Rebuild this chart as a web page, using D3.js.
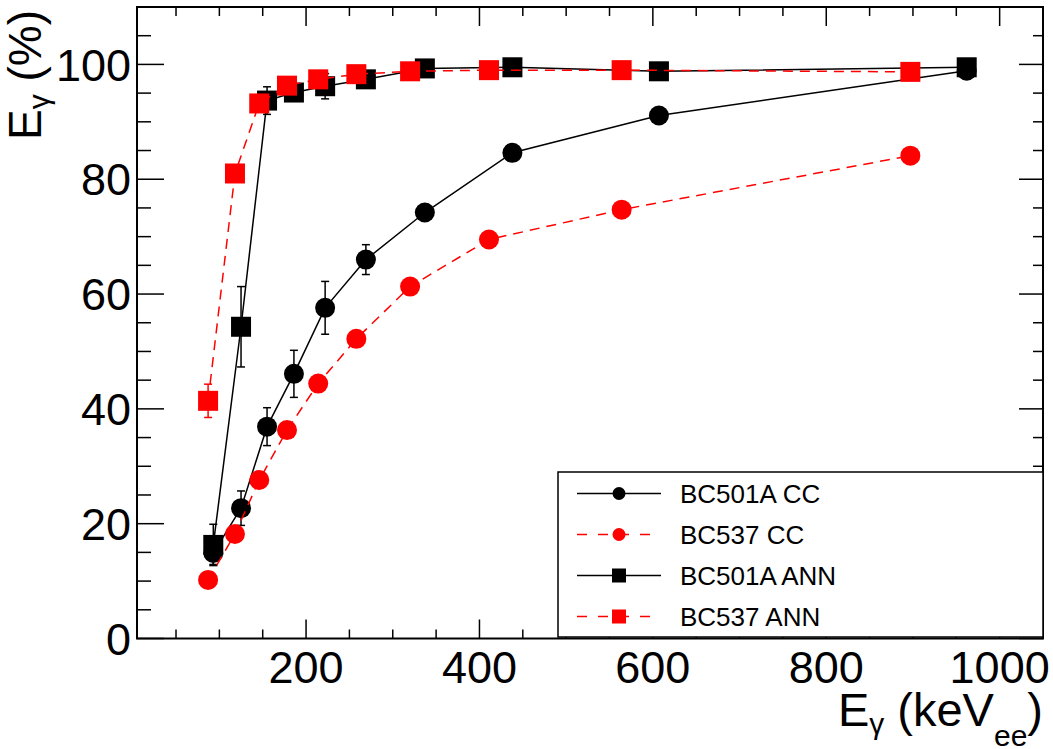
<!DOCTYPE html>
<html>
<head>
<meta charset="utf-8">
<script src="https://cdn.jsdelivr.net/npm/d3@7"></script>
<style>
  body { margin: 0; background: #fff; }
  svg { display: block; font-family: "Liberation Sans", Arial, Helvetica, sans-serif; }
</style>
</head>
<body>
<script>
var w = 1053;
var h = 749;

// Energy bins (keVee) for each scintillator
var energyBC501A = [93, 125, 155, 186, 222, 269, 337, 438, 607, 962];
var energyBC537 = [87, 118, 146, 178, 214, 258, 320, 411, 564, 897];

// Gamma efficiency (%) and errors
var effBC501A_CC = [14.9, 22.7, 36.9, 46.1, 57.6, 66.0, 74.2, 84.6, 91.1, 98.9];
var errBC501A_CC = [2.0, 3.0, 3.3, 4.1, 4.6, 2.6, 1.4, 1.0, 0.8, 0.6];
var effBC537_CC = [10.2, 18.2, 27.6, 36.3, 44.4, 52.2, 61.3, 69.5, 74.7, 84.1];
var errBC537_CC = [0.8, 1.0, 1.0, 1.0, 1.0, 1.0, 0.8, 0.8, 0.8, 0.8];
var effBC501A_ANN = [16.3, 54.3, 93.7, 95.1, 96.2, 97.4, 99.3, 99.5, 98.8, 99.5];
var errBC501A_ANN = [3.6, 7.0, 2.4, 1.5, 2.2, 1.0, 0.8, 0.5, 0.5, 0.5];
var effBC537_ANN = [41.4, 81.0, 93.2, 96.3, 97.4, 98.3, 98.8, 99.0, 99.0, 98.7];
var errBC537_ANN = [2.9, 1.0, 0.8, 0.6, 0.6, 0.5, 0.5, 0.5, 0.5, 0.5];

var seriesNames = ["BC501A CC", "BC537 CC", "BC501A ANN", "BC537 ANN"];
var xTicks = [200, 400, 600, 800, 1000];
var yTicks = [0, 20, 40, 60, 80, 100];

var series = [
    { name: seriesNames[0], x: energyBC501A, y: effBC501A_CC, e: errBC501A_CC, color: "#000", dash: null, shape: "circle" },
    { name: seriesNames[1], x: energyBC537, y: effBC537_CC, e: errBC537_CC, color: "#ff0000", dash: "10,7", shape: "circle" },
    { name: seriesNames[2], x: energyBC501A, y: effBC501A_ANN, e: errBC501A_ANN, color: "#000", dash: null, shape: "square" },
    { name: seriesNames[3], x: energyBC537, y: effBC537_ANN, e: errBC537_ANN, color: "#ff0000", dash: "10,7", shape: "square" }
];

// Frame edges (pixels)
var frameL = 137, frameR = 1043, frameT = 7, frameB = 638.5;

var svg = d3.select("body")
    .append("svg")
    .attr("width", w)
    .attr("height", h);

var x = d3.scaleLinear().domain([5, 1050]).range([frameL, frameR]);
var y = d3.scaleLinear().domain([0, 110]).range([frameB, frameT]);

// Ticks (major + minor) on all four sides
var xMinor = d3.range(50, 1051, 50);
var yMinor = d3.range(0, 111, 5);

var ticks = svg.append("g").attr("stroke", "#000").attr("stroke-width", 1.5);

xMinor.forEach(function(v) {
    var major = v % 200 === 0;
    var len = major ? 19 : 9;
    ticks.append("line").attr("x1", x(v)).attr("x2", x(v))
        .attr("y1", frameB).attr("y2", frameB - len);
    ticks.append("line").attr("x1", x(v)).attr("x2", x(v))
        .attr("y1", frameT).attr("y2", frameT + len);
});

yMinor.forEach(function(v) {
    var major = v % 20 === 0;
    ticks.append("line").attr("y1", y(v)).attr("y2", y(v))
        .attr("x1", frameL).attr("x2", frameL + (major ? 27 : 14));
    ticks.append("line").attr("y1", y(v)).attr("y2", y(v))
        .attr("x1", frameR).attr("x2", frameR - (major ? 24 : 10));
});

// Tick labels
svg.append("g").selectAll("text")
    .data(xTicks).enter().append("text")
    .attr("x", function(d) { return x(d); })
    .attr("y", 683)
    .attr("text-anchor", "middle")
    .attr("font-size", 45)
    .text(function(d) { return d; });

svg.append("g").selectAll("text")
    .data(yTicks).enter().append("text")
    .attr("x", 131)
    .attr("y", function(d) { return y(d); })
    .attr("dy", "0.36em")
    .attr("text-anchor", "end")
    .attr("font-size", 45)
    .text(function(d) { return d; });

// Axis titles
var xt = svg.append("text")
    .attr("x", 1043).attr("y", 726)
    .attr("text-anchor", "end")
    .attr("font-size", 47);
xt.append("tspan").text("E");
xt.append("tspan").attr("font-size", 30).attr("dy", 8).text("γ");
xt.append("tspan").attr("dy", -8).text(" (keV");
xt.append("tspan").attr("font-size", 30).attr("dy", 20).text("ee");
xt.append("tspan").attr("dy", -20).text(")");

var yt = svg.append("text")
    .attr("transform", "translate(41,10) rotate(-90)")
    .attr("text-anchor", "end")
    .attr("font-size", 46);
yt.append("tspan").text("E");
yt.append("tspan").attr("font-size", 30).attr("dy", 8).text("γ");
yt.append("tspan").attr("dy", -8).text(" (%)");

// Graphs
var line = d3.line()
    .x(function(d) { return x(d[0]); })
    .y(function(d) { return y(d[1]); });

function drawMarker(g, shape, cx, cy, size, color) {
    if (shape === "circle") {
        g.append("circle").attr("cx", cx).attr("cy", cy).attr("r", size / 2).attr("fill", color);
    } else {
        g.append("rect").attr("x", cx - size / 2).attr("y", cy - size / 2)
            .attr("width", size).attr("height", size).attr("fill", color);
    }
}

series.forEach(function(s) {
    var pts = s.x.map(function(v, i) { return [v, s.y[i], s.e[i]]; });
    var g = svg.append("g");

    g.append("path")
        .attr("d", line(pts))
        .attr("fill", "none")
        .attr("stroke", s.color)
        .attr("stroke-width", 1.5)
        .attr("stroke-dasharray", s.dash);

    pts.forEach(function(p) {
        var cx = x(p[0]);
        var y1 = y(p[1] + p[2]), y2 = y(p[1] - p[2]);
        g.append("line").attr("x1", cx).attr("x2", cx).attr("y1", y1).attr("y2", y2)
            .attr("stroke", s.color).attr("stroke-width", 1.5);
        [y1, y2].forEach(function(yy) {
            g.append("line").attr("x1", cx - 4).attr("x2", cx + 4).attr("y1", yy).attr("y2", yy)
                .attr("stroke", s.color).attr("stroke-width", 1.5);
        });
    });

    pts.forEach(function(p) {
        drawMarker(g, s.shape, x(p[0]), y(p[1]), 20, s.color);
    });
});

// Frame
svg.append("rect")
    .attr("x", frameL).attr("y", frameT)
    .attr("width", frameR - frameL).attr("height", frameB - frameT)
    .attr("fill", "none").attr("stroke", "#000").attr("stroke-width", 2);

// Legend
var legend = svg.append("g");
legend.append("rect")
    .attr("x", 558).attr("y", 472)
    .attr("width", frameR - 558).attr("height", 165)
    .attr("fill", "#fff").attr("stroke", "#000").attr("stroke-width", 1.5);

var rows = legend.selectAll("g.row")
    .data(series).enter().append("g")
    .attr("class", "row")
    .attr("transform", function(d, i) { return "translate(0," + (493.5 + i * 41) + ")"; });

rows.append("line")
    .attr("x1", 577).attr("x2", 661).attr("y1", 0).attr("y2", 0)
    .attr("stroke", function(d) { return d.color; })
    .attr("stroke-width", 1.5)
    .attr("stroke-dasharray", function(d) { return d.dash ? "10,11" : null; });

rows.each(function(d) {
    var g = d3.select(this);
    if (d.shape === "circle") {
        g.append("circle").attr("cx", 619).attr("cy", 0).attr("r", 6.5).attr("fill", d.color);
    } else {
        g.append("rect").attr("x", 612).attr("y", -7).attr("width", 14).attr("height", 14).attr("fill", d.color);
    }
});

rows.append("text")
    .attr("x", 680).attr("y", 0).attr("dy", "0.36em")
    .attr("font-size", 26)
    .text(function(d) { return d.name; });
</script>
</body>
</html>
